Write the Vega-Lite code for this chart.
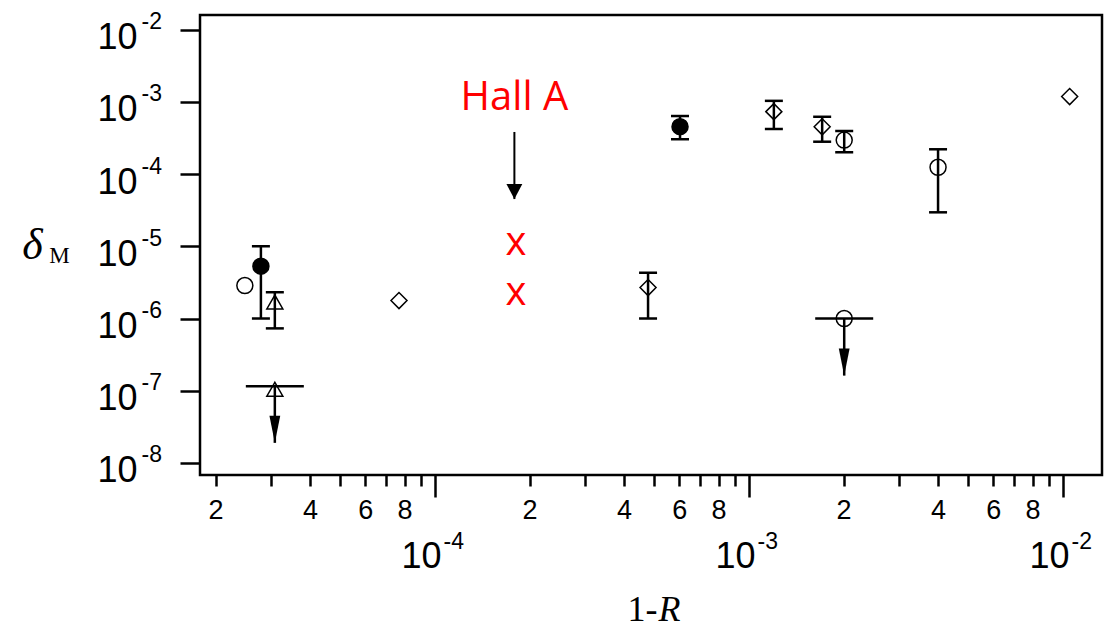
{
  "$schema": "https://vega.github.io/schema/vega-lite/v6.json",
  "autosize": {"type": "none"},
  "padding": {"left": 200, "top": 15, "right": 4, "bottom": 152},
  "width": 902,
  "height": 460,
  "background": "white",
  "config": {
    "view": {"stroke": "black", "strokeWidth": 2.5},
    "axis": {"grid": false, "domain": false}
  },
  "datasets": {
    "points": [
      {"kind": "open_circle", "x": 2.48e-5, "y": 2.86e-6},
      {"kind": "filled_circle", "x": 2.79e-5, "y": 5.3e-6, "lo": 1.0e-6, "hi": 1.0e-5},
      {"kind": "triangle", "x": 3.09e-5, "y": 1.69e-6, "lo": 7.3e-7, "hi": 2.31e-6},
      {"kind": "triangle", "x": 3.09e-5, "y": 1.05e-7, "limit": 1.15e-7, "tip": 1.9e-8},
      {"kind": "diamond", "x": 7.68e-5, "y": 1.77e-6},
      {"kind": "diamond", "x": 4.77e-4, "y": 2.68e-6, "lo": 1.0e-6, "hi": 4.3e-6},
      {"kind": "filled_circle", "x": 6.03e-4, "y": 4.52e-4, "lo": 3.03e-4, "hi": 6.35e-4},
      {"kind": "diamond", "x": 1.20e-3, "y": 7.3e-4, "lo": 4.2e-4, "hi": 1.03e-3},
      {"kind": "diamond", "x": 1.71e-3, "y": 4.5e-4, "lo": 2.8e-4, "hi": 6.2e-4},
      {"kind": "open_circle", "x": 2.01e-3, "y": 2.95e-4, "lo": 2.0e-4, "hi": 3.94e-4},
      {"kind": "open_circle", "x": 2.01e-3, "y": 1.0e-6, "limit": 1.0e-6, "tip": 1.62e-7},
      {"kind": "open_circle", "x": 4.0e-3, "y": 1.24e-4, "lo": 2.95e-5, "hi": 2.2e-4},
      {"kind": "diamond", "x": 1.05e-2, "y": 1.18e-3}
    ],
    "hall": [
      {"role": "x", "x": 1.81e-4, "y": 1.09e-5, "text": "x"},
      {"role": "x", "x": 1.81e-4, "y": 2.2e-6, "text": "x"},
      {"role": "label", "x": 1.79e-4, "y": 7.75e-4, "text": "Hall A"},
      {"role": "arrow", "x": 1.79e-4, "y": 3.82e-4, "tip": 4.5e-5}
    ]
  },
  "encoding": {
    "x": {"field": "x", "type": "quantitative", "scale": {"type": "log", "domain": [1.785e-5, 1.331e-2], "nice": false}, "axis": null},
    "y": {"field": "y", "type": "quantitative", "scale": {"type": "log", "domain": [6.82e-9, 1.589e-2], "nice": false}, "axis": null}
  },
  "resolve": {"axis": {"x": "independent", "y": "independent"}},
  "layer": [
    {
      "data": {"name": "points"},
      "transform": [{"filter": "isValid(datum.lo)"}],
      "mark": {"type": "rule", "color": "black", "strokeWidth": 2.5},
      "encoding": {
        "x": {
          "field": "x", "type": "quantitative",
          "scale": {"type": "log", "domain": [1.785e-5, 1.331e-2], "nice": false},
          "axis": {
            "orient": "bottom",
            "values": [1e-4, 1e-3, 1e-2],
            "labelExpr": "datum.value < 0.0005 ? '-4' : datum.value < 0.005 ? '-3' : '-2'",
            "ticks": false, "tickSize": 0,
            "labelFont": "Liberation Sans", "labelFontSize": 23, "labelColor": "black", "labelPadding": 73,
            "labelAlign": "left", "labelBaseline": "alphabetic", "labelOffset": 8,
            "labelOverlap": false, "labelFlush": false, "labelBound": false,
            "title": null
          }
        },
        "y": {
          "field": "lo", "type": "quantitative",
          "scale": {"type": "log", "domain": [6.82e-9, 1.589e-2], "nice": false},
          "axis": {
            "orient": "left",
            "values": [1e-8, 1e-7, 1e-6, 1e-5, 1e-4, 1e-3, 1e-2],
            "labelExpr": "'-' + round(-log(datum.value) / LN10)",
            "ticks": false, "tickSize": 0,
            "labelFont": "Liberation Sans", "labelFontSize": 23, "labelColor": "black", "labelPadding": 59,
            "labelAlign": "left", "labelBaseline": "alphabetic", "labelOffset": -1,
            "labelOverlap": false, "labelFlush": false, "labelBound": false,
            "title": null
          }
        },
        "y2": {"field": "hi"}
      }
    },
    {
      "data": {"name": "points"},
      "transform": [{"filter": "isValid(datum.lo)"}],
      "mark": {"type": "point", "shape": "M-1,0L1,0", "filled": false, "color": "black", "strokeWidth": 2.5, "size": 324, "opacity": 1},
      "encoding": {
        "y": {"field": "lo", "type": "quantitative", "scale": {"type": "log", "domain": [6.82e-9, 1.589e-2], "nice": false}, "axis": null}
      }
    },
    {
      "data": {"name": "points"},
      "transform": [{"filter": "isValid(datum.hi)"}],
      "mark": {"type": "point", "shape": "M-1,0L1,0", "filled": false, "color": "black", "strokeWidth": 2.5, "size": 324, "opacity": 1},
      "encoding": {
        "y": {"field": "hi", "type": "quantitative", "scale": {"type": "log", "domain": [6.82e-9, 1.589e-2], "nice": false}, "axis": null}
      }
    },
    {
      "data": {"name": "points"},
      "transform": [{"filter": "isValid(datum.limit)"}],
      "mark": {"type": "point", "shape": "M-1,0L1,0", "filled": false, "color": "black", "strokeWidth": 2.5, "size": 3364, "opacity": 1},
      "encoding": {
        "y": {"field": "limit", "type": "quantitative", "scale": {"type": "log", "domain": [6.82e-9, 1.589e-2], "nice": false}, "axis": null}
      }
    },
    {
      "data": {"name": "points"},
      "transform": [{"filter": "isValid(datum.limit)"}],
      "mark": {"type": "rule", "color": "black", "strokeWidth": 2.5},
      "encoding": {
        "y": {"field": "limit", "type": "quantitative", "scale": {"type": "log", "domain": [6.82e-9, 1.589e-2], "nice": false}, "axis": null},
        "y2": {"field": "tip"}
      }
    },
    {
      "data": {"name": "points"},
      "transform": [{"filter": "isValid(datum.tip)"}],
      "mark": {"type": "point", "shape": "M-0.4,-2L0.4,-2L0,0Z", "filled": true, "color": "black", "size": 729, "opacity": 1},
      "encoding": {
        "y": {"field": "tip", "type": "quantitative", "scale": {"type": "log", "domain": [6.82e-9, 1.589e-2], "nice": false}, "axis": null}
      }
    },
    {
      "data": {"name": "points"},
      "mark": {"type": "point", "filled": true, "stroke": "black", "strokeWidth": 1.5, "size": 256, "opacity": 1},
      "encoding": {
        "x": {
          "field": "x", "type": "quantitative",
          "scale": {"type": "log", "domain": [1.785e-5, 1.331e-2], "nice": false},
          "axis": {
            "orient": "bottom",
            "values": [2e-5, 3e-5, 4e-5, 5e-5, 6e-5, 7e-5, 8e-5, 9e-5, 2e-4, 3e-4, 4e-4, 5e-4, 6e-4, 7e-4, 8e-4, 9e-4, 2e-3, 3e-3, 4e-3, 5e-3, 6e-3, 7e-3, 8e-3, 9e-3],
            "labelExpr": "indexof([2,4,6,8], round(datum.value / pow(10, floor(log(datum.value) / LN10 + 0.000001)))) >= 0 ? '' + round(datum.value / pow(10, floor(log(datum.value) / LN10 + 0.000001))) : ''",
            "tickSize": 11, "tickWidth": 2.5, "tickColor": "black",
            "labelFont": "Liberation Sans", "labelFontSize": 27, "labelColor": "black", "labelPadding": 11,
            "labelOverlap": false, "labelFlush": false, "labelBound": false,
            "title": "1-", "titleFont": "Liberation Serif", "titleFontSize": 36, "titleFontWeight": "normal", "titleColor": "black",
            "titleX": 457, "titleY": 145, "titleAlign": "right", "titleBaseline": "alphabetic"
          }
        },
        "y": {
          "field": "y", "type": "quantitative",
          "scale": {"type": "log", "domain": [6.82e-9, 1.589e-2], "nice": false},
          "axis": {
            "orient": "left",
            "values": [1e-8, 1e-7, 1e-6, 1e-5, 1e-4, 1e-3, 1e-2],
            "labelExpr": "'10'",
            "tickSize": 20, "tickWidth": 2.5, "tickColor": "black",
            "labelFont": "Liberation Sans", "labelFontSize": 36, "labelColor": "black", "labelPadding": 43,
            "labelBaseline": "alphabetic", "labelOffset": 19,
            "labelOverlap": false, "labelFlush": false, "labelBound": false,
            "title": "δ", "titleFont": "Liberation Serif", "titleFontSize": 44, "titleFontStyle": "italic", "titleFontWeight": "normal", "titleColor": "black",
            "titleAngle": 0, "titleX": -168, "titleY": 243, "titleAlign": "center", "titleBaseline": "alphabetic"
          }
        },
        "shape": {"field": "kind", "type": "nominal", "scale": {"domain": ["open_circle", "filled_circle", "triangle", "diamond"], "range": ["circle", "circle", "triangle-up", "diamond"]}, "legend": null},
        "fill": {"field": "kind", "type": "nominal", "scale": {"domain": ["open_circle", "filled_circle", "triangle", "diamond"], "range": ["transparent", "black", "transparent", "transparent"]}, "legend": null}
      }
    },
    {
      "data": {"name": "hall"},
      "transform": [{"filter": "datum.role === 'x'"}],
      "mark": {"type": "text", "color": "#ff0000", "font": "Open Sans", "fontSize": 40, "align": "center", "baseline": "alphabetic", "dy": 11},
      "encoding": {
        "x": {
          "field": "x", "type": "quantitative",
          "scale": {"type": "log", "domain": [1.785e-5, 1.331e-2], "nice": false},
          "axis": {
            "orient": "bottom",
            "values": [1e-4, 1e-3, 1e-2],
            "labelExpr": "'10'",
            "tickSize": 22, "tickWidth": 2.5, "tickColor": "black",
            "labelFont": "Liberation Sans", "labelFontSize": 36, "labelColor": "black", "labelPadding": 70,
            "labelAlign": "right", "labelBaseline": "alphabetic", "labelOffset": 6,
            "labelOverlap": false, "labelFlush": false, "labelBound": false,
            "title": "R", "titleFont": "Liberation Serif", "titleFontSize": 36, "titleFontStyle": "italic", "titleFontWeight": "normal", "titleColor": "black",
            "titleX": 458, "titleY": 145, "titleAlign": "left", "titleBaseline": "alphabetic"
          }
        },
        "y": {
          "field": "y", "type": "quantitative",
          "scale": {"type": "log", "domain": [6.82e-9, 1.589e-2], "nice": false},
          "axis": {
            "orient": "left",
            "labels": false, "ticks": false, "domain": false,
            "title": "M", "titleFont": "Liberation Serif", "titleFontSize": 23, "titleFontWeight": "normal", "titleColor": "black",
            "titleAngle": 0, "titleX": -141, "titleY": 247, "titleAlign": "center", "titleBaseline": "alphabetic"
          }
        },
        "text": {"field": "text"}
      }
    },
    {
      "data": {"name": "hall"},
      "transform": [{"filter": "datum.role === 'label'"}],
      "mark": {"type": "text", "color": "#ff0000", "font": "Open Sans", "fontSize": 40, "align": "center", "baseline": "alphabetic"},
      "encoding": {"text": {"field": "text"}}
    },
    {
      "data": {"name": "hall"},
      "transform": [{"filter": "datum.role === 'arrow'"}],
      "mark": {"type": "rule", "color": "black", "strokeWidth": 2},
      "encoding": {"y2": {"field": "tip"}}
    },
    {
      "data": {"name": "hall"},
      "transform": [{"filter": "datum.role === 'arrow'"}],
      "mark": {"type": "point", "shape": "M-0.53,-1L0.53,-1L0,0Z", "filled": true, "color": "black", "size": 900, "opacity": 1},
      "encoding": {
        "y": {"field": "tip", "type": "quantitative", "scale": {"type": "log", "domain": [6.82e-9, 1.589e-2], "nice": false}, "axis": null}
      }
    }
  ]
}
